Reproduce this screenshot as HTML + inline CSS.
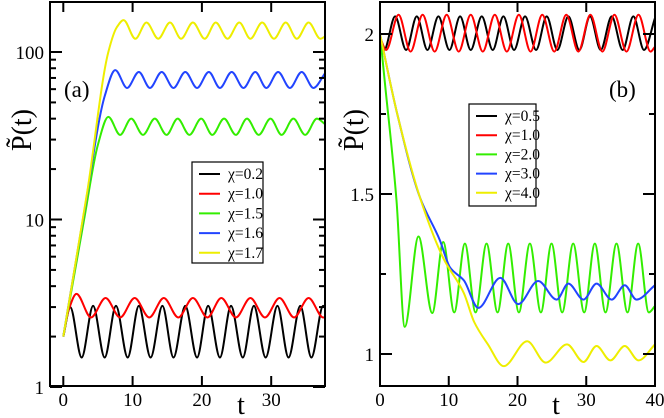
<!DOCTYPE html>
<html><head><meta charset="utf-8">
<style>
html,body{margin:0;padding:0;background:#fff;}
svg{display:block;font-family:"Liberation Serif",serif;}
</style></head>
<body>
<svg id="chart" width="664" height="418" viewBox="0 0 664 418"></svg>
<script>
// ---------- Panel (a) data: [t, P] anchor points ----------
const aLegend = ["χ=0.2","χ=1.0","χ=1.5","χ=1.6","χ=1.7"];
const aColors = ["#000000","#ff0000","#33ee00","#2244ff","#eeee00"];
const aBlack = [[0,2],[1.0,3.0],[2.65,1.5],[4.3,3.05],[5.97,1.5],[7.6,3.05],[9.29,1.5],[10.9,3.05],[12.6,1.5],[14.3,3.05],[15.9,1.5],[17.6,3.05],[19.3,1.5],[20.9,3.05],[22.6,1.5],[24.2,3.05],[25.9,1.5],[27.5,3.05],[29.2,1.5],[30.9,3.05],[32.5,1.5],[34.2,3.05],[35.8,1.5],[37.5,3.05],[37.8,3.0]];
const aRed = [[0,2],[0.8,2.9],[1.9,3.6],[4.0,2.6],[6.1,3.4],[8.2,2.6],[10.3,3.4],[12.4,2.6],[14.5,3.4],[16.6,2.6],[18.7,3.4],[20.8,2.6],[22.8,3.4],[24.9,2.6],[27.0,3.4],[29.1,2.6],[31.2,3.4],[33.3,2.6],[35.4,3.4],[37.5,2.6],[37.8,2.62]];
const aGreen = [[0,2],[3,10],[5,28],[6.5,41],[8.2,32],[9.8,40],[11.5,32],[13.2,40],[14.9,32],[16.5,40],[18.2,32],[19.9,40],[21.5,32],[23.2,40],[24.9,32],[26.5,40],[28.2,32],[29.9,40],[31.5,32],[33.2,40],[34.9,32],[36.6,40],[37.8,37]];
const aBlue = [[0,2],[3,11],[6,55],[7.5,78],[9.2,61],[10.9,76],[12.5,61],[14.2,76],[15.9,61],[17.6,76],[19.3,61],[21.0,76],[22.6,61],[24.3,76],[26.0,61],[27.7,76],[29.3,61],[31.0,76],[32.7,61],[34.4,76],[36.1,61],[37.8,75]];
const aYellow = [[0,2],[3.5,15],[6.5,100],[7.7,140],[8.7,155],[10.4,120],[12.0,150],[13.7,120],[15.4,150],[17.0,120],[18.7,150],[20.4,120],[22.0,150],[23.7,120],[25.4,150],[27.0,120],[28.7,150],[30.4,120],[32.1,150],[33.7,120],[35.4,150],[37.1,120],[37.8,124]];
const aXTicks = [0,10,20,30];
const aYTicks = [1,10,100];
const aYTickLabels = ["1","10","100"];

// ---------- Panel (b) data ----------
const bLegend = ["χ=0.5","χ=1.0","χ=2.0","χ=3.0","χ=4.0"];
const bColors = ["#000000","#ff0000","#33ee00","#2244ff","#eeee00"];
const bBlack = [[0,1.99],[0.6,1.95],[2.2,2.055],[3.8,1.95],[5.35,2.055],[6.9,1.95],[8.5,2.055],[10.1,1.95],[11.65,2.055],[13.2,1.95],[14.8,2.055],[16.4,1.95],[17.95,2.055],[19.5,1.95],[21.1,2.055],[22.7,1.95],[24.25,2.055],[25.8,1.95],[27.4,2.055],[29.0,1.95],[30.55,2.055],[32.1,1.95],[33.7,2.055],[35.3,1.95],[36.85,2.055],[38.4,1.95],[40,2.05]];
const bRed = [[0,1.99],[0.9,1.95],[2.7,2.06],[4.45,1.945],[6.2,2.06],[7.95,1.945],[9.7,2.06],[11.45,1.945],[13.2,2.06],[14.95,1.945],[16.7,2.06],[18.45,1.945],[20.2,2.06],[21.9,1.945],[23.6,2.06],[25.35,1.945],[27.1,2.06],[28.85,1.945],[30.6,2.06],[32.35,1.945],[34.1,2.06],[35.85,1.945],[37.6,2.06],[39.35,1.945],[40,1.96]];
const bGreen = [[0,2],[0.7,1.85],[2.4,1.48],[3.6,1.085],[5.6,1.367],[7.6,1.128],[9.2,1.35],[10.8,1.13],[12.35,1.345],[13.9,1.13],[15.5,1.345],[17.1,1.13],[18.65,1.345],[20.2,1.13],[21.8,1.345],[23.4,1.13],[24.95,1.345],[26.5,1.13],[28.1,1.345],[29.7,1.13],[31.25,1.345],[32.8,1.13],[34.4,1.345],[36.0,1.13],[37.55,1.345],[39.1,1.13],[40,1.15]];
const bBlue = [[0,2],[2.4,1.76],[5.8,1.49],[8.7,1.356],[10.2,1.27],[12.2,1.23],[14.3,1.144],[17.5,1.238],[20.1,1.156],[23.0,1.228],[25.7,1.17],[27.4,1.22],[29.6,1.17],[31.5,1.22],[33.7,1.17],[35.6,1.215],[37.3,1.17],[40,1.215]];
const bYellow = [[0,2],[2.4,1.76],[5.8,1.49],[9.2,1.3],[12.2,1.19],[13.7,1.1],[15.7,1.03],[18,0.962],[21.4,1.04],[24.1,0.973],[27.2,1.03],[29.6,0.975],[31.5,1.025],[33.5,0.98],[35.6,1.025],[37.6,0.98],[40,1.03]];
const bXTicks = [0,10,20,30,40];
const bYTicks = [1,1.5,2];
const bYTickLabels = ["1","1.5","2"];

const NS="http://www.w3.org/2000/svg";
const svg=document.getElementById('chart');
function mk(tag,attrs,parent){const e=document.createElementNS(NS,tag);for(const k in attrs)e.setAttribute(k,attrs[k]);(parent||svg).appendChild(e);return e;}

const ax={x0:50,x1:325,y0:2,y1:386};
const axX=t=>63.3+t*6.93;
const axY=v=>387-Math.log10(v)*167.5;
const bx={x0:380,x1:655,y0:2,y1:386};
const bxX=t=>380+t*6.875;
const bxY=v=>354-(v-1)*320;

// monotone cubic (Fritsch-Carlson) in pixel space
function pathFor(pts,fx,fy){
  const p=pts.map(d=>[fx(d[0]),fy(d[1])]);
  const n=p.length, dx=[], sl=[], m=[];
  for(let i=0;i<n-1;i++){dx[i]=p[i+1][0]-p[i][0];sl[i]=(p[i+1][1]-p[i][1])/dx[i];}
  m[0]=sl[0];m[n-1]=sl[n-2];
  for(let i=1;i<n-1;i++){
    if(sl[i-1]*sl[i]<=0)m[i]=0;
    else{const w1=2*dx[i]+dx[i-1],w2=dx[i]+2*dx[i-1];m[i]=(w1+w2)/(w1/sl[i-1]+w2/sl[i]);}
  }
  let s="M"+p[0][0].toFixed(2)+","+p[0][1].toFixed(2);
  for(let i=0;i<n-1;i++){
    const h=dx[i]/3;
    s+="C"+(p[i][0]+h).toFixed(2)+","+(p[i][1]+m[i]*h).toFixed(2)+" "+(p[i+1][0]-h).toFixed(2)+","+(p[i+1][1]-m[i+1]*h).toFixed(2)+" "+p[i+1][0].toFixed(2)+","+p[i+1][1].toFixed(2);
  }
  return s;
}

function panel(id,box,fx,fy,series,colors,xt,yt,ytl,minorY,legend,leg,label,labelPos,ylabX,tX){
  const g=mk('g',{});
  
  
  const clipId=id+'-clip';
  const cp=mk('clipPath',{id:clipId},g);
  mk('rect',{x:box.x0,y:box.y0,width:box.x1-box.x0,height:box.y1-box.y0},cp);
  const sg=mk('g',{'clip-path':'url(#'+clipId+')'},g);
  series.forEach((s,i)=>{
    const p=mk('path',{d:pathFor(s,fx,fy),fill:'none',stroke:colors[i],'stroke-width':2},sg);
    
    
  });
  const tg=mk('g',{stroke:'#000','stroke-width':2},g);
  xt.forEach(t=>{const x=fx(t);mk('line',{x1:x,y1:box.y1,x2:x,y2:box.y1-10},tg);mk('line',{x1:x,y1:box.y0,x2:x,y2:box.y0+10},tg);});
  yt.forEach(v=>{const y=fy(v);mk('line',{x1:box.x0,y1:y,x2:box.x0+12,y2:y},tg);mk('line',{x1:box.x1,y1:y,x2:box.x1-12,y2:y},tg);});
  minorY.forEach(v=>{const y=fy(v);if(y<box.y0||y>box.y1)return;mk('line',{x1:box.x0,y1:y,x2:box.x0+6,y2:y},tg);mk('line',{x1:box.x1,y1:y,x2:box.x1-6,y2:y},tg);});
  const fr=mk('rect',{x:box.x0,y:box.y0,width:box.x1-box.x0,height:box.y1-box.y0,fill:'none',stroke:'#000','stroke-width':2},g);
  
  
  xt.forEach(t=>{const e=mk('text',{x:fx(t),y:406,'font-size':19,'text-anchor':'middle'},g);e.textContent=String(t);
    });
  yt.forEach((v,i)=>{const e=mk('text',{x:box.x0-6,y:fy(v)+7,'font-size':19,'text-anchor':'end'},g);e.textContent=ytl[i];
    });
  const lg=mk('g',{},g);
  
  
  mk('rect',{x:leg.x,y:leg.y,width:leg.w,height:leg.h,fill:'#fff',stroke:'#000','stroke-width':1.2},lg);
  legend.forEach((l,i)=>{const y=leg.y+12+i*leg.dy;
    mk('line',{x1:leg.x+7,y1:y,x2:leg.x+28,y2:y,stroke:colors[i],'stroke-width':2},lg);
    const e=mk('text',{x:leg.x+36,y:y+5,'font-size':15.5},lg);e.textContent=l;
    });
  const lb=mk('text',{x:labelPos[0],y:labelPos[1],'font-size':23},g);lb.textContent=label;
  
  const yl=mk('text',{x:0,y:0,'font-size':28,'text-anchor':'middle',transform:'translate('+ylabX+',130) rotate(-90)'},g);yl.textContent='P̃(t)';
  
  const xl=mk('text',{x:tX,y:414,'font-size':28,'text-anchor':'middle'},g);xl.textContent='t';
  
}

const aMinor=[];[1,10,100].forEach(d=>{for(let k=2;k<=9;k++)aMinor.push(d*k);});
panel('panel-a',ax,axX,axY,[aBlack,aRed,aGreen,aBlue,aYellow],aColors,aXTicks,aYTicks,aYTickLabels,aMinor,aLegend,
  {x:192,y:162,w:71,h:101,dy:19.7},'(a)',[64,97],31,241);
panel('panel-b',bx,bxX,bxY,[bBlack,bRed,bGreen,bBlue,bYellow],bColors,bXTicks,bYTicks,bYTickLabels,[1.25,1.75],bLegend,
  {x:469,y:104,w:67,h:102,dy:19.2},'(b)',[609,97],363,556);
</script>
</body></html>
